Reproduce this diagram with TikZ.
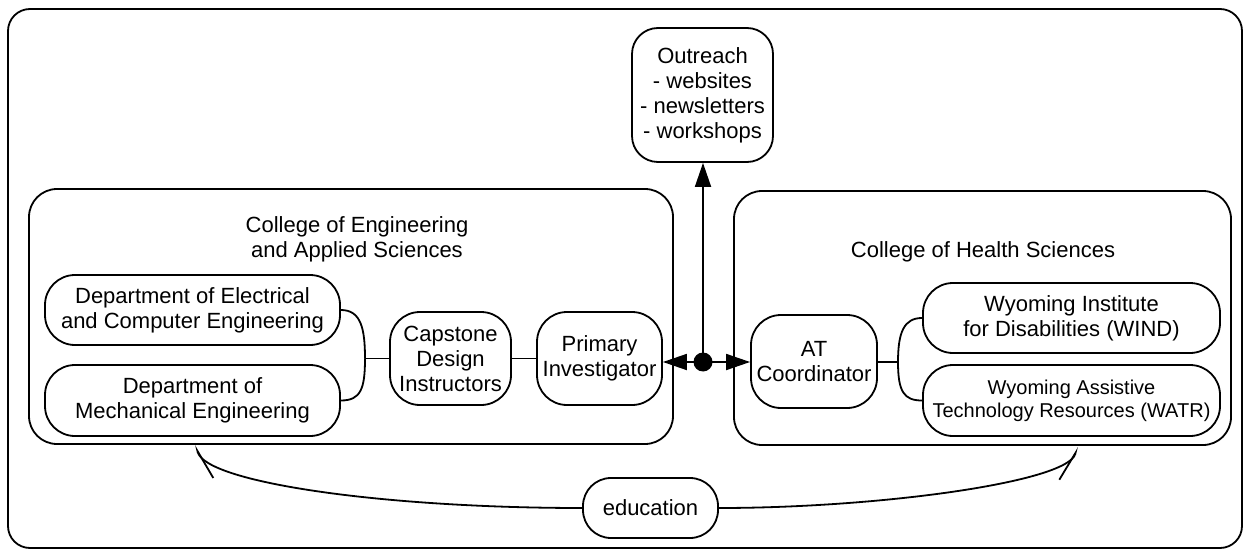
\documentclass[tikz,border=0pt]{standalone}
\usepackage{fontspec}
\setmainfont{Liberation Sans}
\usetikzlibrary{arrows.meta}
\newcommand{\mainsz}{\fontsize{22}{25}\selectfont}
\newcommand{\smallsz}{\fontsize{20}{23}\selectfont}
\tikzset{
  every path/.style={line width=1.8pt},
  box/.style={draw, line width=1.8pt, rounded corners=30pt, align=center, inner sep=0pt, font=\mainsz},
  college/.style={draw, line width=1.8pt, rounded corners=28pt, inner sep=0pt},
  title/.style={align=center, inner sep=0pt, font=\mainsz},
  solidtip/.style={-{Triangle[length=24pt,width=16pt]}},
  barbl/.style={-{Straight Barb[harpoon,length=30pt,width=18pt,line width=1.8pt]}},
  barbr/.style={-{Straight Barb[harpoon,swap,length=30pt,width=18pt,line width=1.8pt]}},
}
\begin{document}
\begin{tikzpicture}[x=1pt,y=-1pt]
\useasboundingbox (0,0) rectangle (1250,556);
% outer frame
\draw[rounded corners=22pt] (8,9) rectangle (1242,548);

% colleges
\node[college, minimum width=644pt, minimum height=255pt] (ceas) at (351,316.5) {};
\node[title] (ceast) at (357,239) {College of Engineering\\and Applied Sciences};
\node[college, minimum width=497pt, minimum height=254pt] (chs) at (982.5,318) {};
\node[title, anchor=base] (chst) at (983,257) {College of Health Sciences};

% outreach
\node[box, rounded corners=26pt, minimum width=141pt, minimum height=134pt] (out) at (702.5,95)
  {Outreach\\- websites\\- newsletters\\- workshops};

% left side
\node[box, minimum width=295pt, minimum height=70pt] (elec) at (192.5,310)
  {Department of Electrical\\and Computer Engineering};
\node[box, minimum width=295pt, minimum height=71pt] (mech) at (192.5,400.5)
  {Department of\\Mechanical Engineering};
\node[box, minimum width=121pt, minimum height=93pt] (cap) at (450.5,358.5)
  {Capstone\\Design\\Instructors};
\node[box, minimum width=125pt, minimum height=93pt] (pi) at (599.5,358.5)
  {Primary\\Investigator};

% center dot
\node[circle, fill=black, inner sep=0pt, minimum size=19pt] (dot) at (703,362) {};

% right side
\node[box, minimum width=126pt, minimum height=93pt] (at) at (814,361.5)
  {AT\\Coordinator};
\node[box, minimum width=297pt, minimum height=70pt] (wind) at (1071.5,318)
  {Wyoming Institute\\for Disabilities (WIND)};
\node[box, font=\smallsz, minimum width=297pt, minimum height=71pt] (watr) at (1071.5,400.5)
  {Wyoming Assistive\\Technology Resources (WATR)};

% education
\node[box, rounded corners=28pt, minimum width=135pt, minimum height=60pt] (edu) at (650.5,508)
  {education};

% connectors left
\coordinate (jl) at (365,358.5);
\draw (elec.east) .. controls +(20,0) and +(0,-30) .. (jl);
\draw (jl) .. controls +(0,30) and +(20,0) .. (mech.east);
\draw (jl) -- (cap.west);
\draw (cap.east) -- (pi.west);

% connectors right
\coordinate (jr) at (898,362);
\draw (at.east |- jr) -- (jr);
\draw (jr) .. controls +(0,-30) and +(-18,0) .. (wind.west);
\draw (jr) .. controls +(0,30) and +(-18,0) .. (watr.west);

% arrows from dot
\draw[solidtip] (dot.center) -- (dot -| pi.east);
\draw[solidtip] (dot.center) -- (dot -| at.west);
\draw[solidtip] (dot.center) -- (dot |- out.south);

% education curves
\coordinate (ltip) at (196,445);
\coordinate (rtip) at (1077,447);
\draw[barbr] (edu.west) .. controls (380,508) and (205,482) .. (ltip);
\draw[barbl] (edu.east) .. controls (880,508) and (1068,482) .. (rtip);
\end{tikzpicture}
\end{document}
